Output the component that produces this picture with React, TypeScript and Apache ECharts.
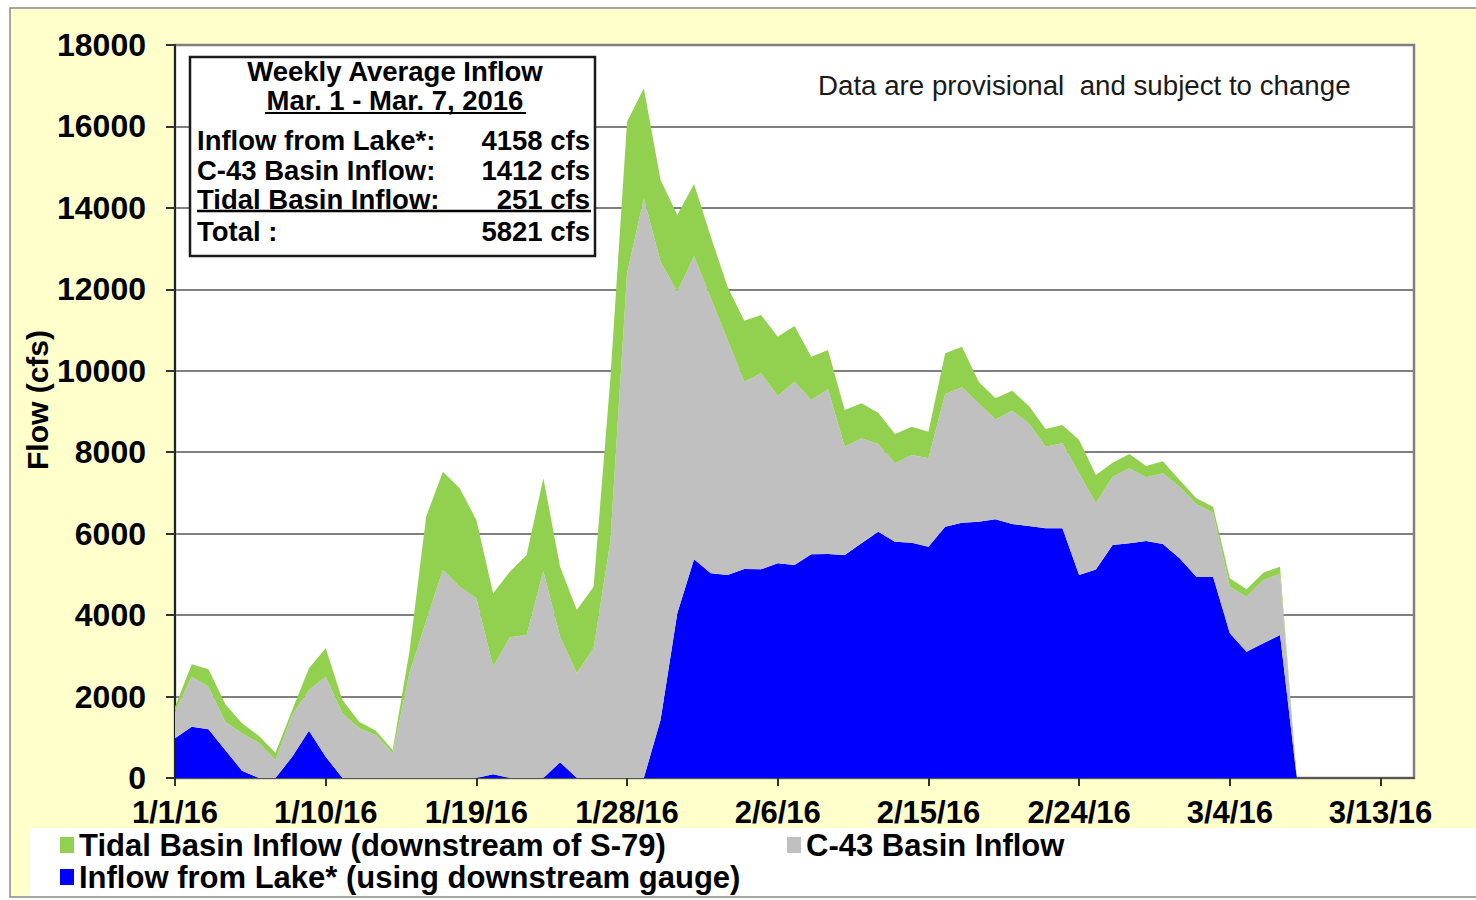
import React, { useEffect, useRef } from "react";
import * as echarts from "echarts";

// Categories: daily dates 1/1/16 .. 3/15/16
const monthDays = [31, 29, 31];
const dates: string[] = [];
for (let m = 0; m < 3; m++) {
  for (let d = 1; d <= monthDays[m]; d++) {
    if (dates.length < 75) dates.push(`${m + 1}/${d}/16`);
  }
}

const seriesNames = [
  "Inflow from Lake* (using downstream gauge)",
  "C-43 Basin Inflow",
  "Tidal Basin Inflow (downstream of S-79)",
];

// Inflow from Lake (cfs), daily from 1/1/16
const lake = [
  975, 1260, 1195, 688, 180, 0, 0, 523, 1162, 523,
  0, 0, 0, 0, 0, 0, 0, 0, 0, 90,
  0, 0, 0, 385, 0, 0, 0, 0, 0, 1424,
  4045, 5371, 5027, 4985, 5133, 5125, 5272, 5231, 5494, 5501,
  5476, 5763, 6049, 5804, 5779, 5680, 6172, 6270, 6295, 6353,
  6238, 6189, 6132, 6132, 4985, 5120, 5722, 5763, 5820, 5747,
  5395, 4944, 4944, 3553, 3102, 3307, 3512, 0,
];

// C-43 Basin Inflow (cfs)
const c43 = [
  654, 1228, 1047, 695, 917, 867, 442, 1027, 999, 1965,
  1588, 1220, 1056, 606, 2571, 3855, 5108, 4699, 4412, 2643,
  3455, 3512, 5083, 3086, 2571, 3185, 5800, 12394, 14236, 11256,
  7898, 7449, 6761, 5779, 4600, 4813, 4109, 4502, 3789, 4044,
  2660, 2579, 2153, 1924, 2153, 2171, 3258, 3324, 2906, 2455,
  2783, 2521, 2004, 2086, 2497, 1626, 1678, 1842, 1564, 1735,
  1759, 1785, 1571, 1145, 1350, 1555, 1498, 0,
];

// Tidal Basin Inflow (cfs)
const tidal = [
  122, 304, 427, 434, 246, 173, 180, 120, 532, 697,
  327, 163, 106, 82, 529, 2563, 2414, 2414, 1924, 1802,
  1611, 1964, 2277, 1719, 1555, 1513, 4000, 3723, 2702, 2006,
  1883, 1767, 1506, 1302, 1497, 1432, 1457, 1367, 1064, 966,
  901, 859, 769, 720, 696, 654, 999, 999, 532, 517,
  491, 425, 435, 451, 819, 695, 343, 352, 278, 295,
  164, 140, 148, 206, 182, 180, 179, 0,
];

const boxTitle = "Weekly Average Inflow";
const boxPeriod = "Mar. 1 - Mar. 7, 2016";
const boxLabels = ["Inflow from Lake*:", "C-43 Basin Inflow:", "Tidal Basin Inflow:", "Total :"];
const boxValues = ["4158 cfs", "1412 cfs", "251 cfs", "5821 cfs"];
const note = "Data are provisional  and subject to change";
const yTitle = "Flow (cfs)";

const FONT = "'Liberation Sans', Arial, sans-serif";

export default function App() {
  const ref = useRef<HTMLDivElement>(null);
  useEffect(() => {
    if (!ref.current) return;
    const chart = echarts.init(ref.current, null, { renderer: "svg" });
    const rowY = [140, 170, 199, 231];
    const boxTexts: any[] = [];
    boxLabels.forEach((t, i) => {
      boxTexts.push({
        type: "text",
        x: 197,
        y: rowY[i],
        z: 102,
        style: { text: t, font: `bold 27.5px ${FONT}`, fill: "#000", textAlign: "left", textVerticalAlign: "middle" },
      });
      boxTexts.push({
        type: "text",
        x: 590,
        y: rowY[i],
        z: 102,
        style: { text: boxValues[i], font: `bold 27.5px ${FONT}`, fill: "#000", textAlign: "right", textVerticalAlign: "middle" },
      });
    });
    const legendCommon = {
      icon: "rect",
      itemWidth: 14,
      itemHeight: 16,
      padding: 0,
      selectedMode: false,
      textStyle: { fontFamily: FONT, fontWeight: "bold", fontSize: 31, color: "#000", lineHeight: 32 },
    };
    chart.setOption({
      animation: false,
      textStyle: { fontFamily: FONT },
      color: ["#0000FF", "#C0C0C0", "#92D050"],
      graphic: [
        {
          type: "rect",
          z: -10,
          silent: true,
          shape: { x: 10, y: 8, width: 1480, height: 889 },
          style: { fill: "#FFFFCC", stroke: "#8a8a8a", lineWidth: 1.5 },
        },
        {
          type: "rect",
          z: -9,
          silent: true,
          shape: { x: 30, y: 828, width: 1460, height: 68 },
          style: { fill: "#FFFFFF" },
        },
        {
          type: "text",
          x: 37,
          y: 400,
          rotation: Math.PI / 2,
          z: 50,
          style: { text: yTitle, font: `bold 30px ${FONT}`, fill: "#000", textAlign: "center", textVerticalAlign: "middle" },
        },
        {
          type: "rect",
          z: 100,
          shape: { x: 190, y: 57, width: 405, height: 199 },
          style: { fill: "#FFFFFF", stroke: "#1a1a1a", lineWidth: 2.5 },
        },
        {
          type: "text",
          x: 395,
          y: 71,
          z: 102,
          style: { text: boxTitle, font: `bold 27.5px ${FONT}`, fill: "#000", textAlign: "center", textVerticalAlign: "middle" },
        },
        {
          type: "text",
          x: 395,
          y: 100,
          z: 102,
          style: { text: boxPeriod, font: `bold 27.5px ${FONT}`, fill: "#000", textAlign: "center", textVerticalAlign: "middle" },
        },
        {
          type: "line",
          z: 102,
          shape: { x1: 265, y1: 113, x2: 526, y2: 113 },
          style: { stroke: "#000", lineWidth: 2 },
        },
        {
          type: "line",
          z: 102,
          shape: { x1: 197, y1: 211, x2: 591, y2: 211 },
          style: { stroke: "#000", lineWidth: 2.5 },
        },
        ...boxTexts,
        {
          type: "text",
          x: 818,
          y: 85,
          z: 102,
          style: { text: note, font: `27.7px ${FONT}`, fill: "#1a1a1a", textAlign: "left", textVerticalAlign: "middle" },
        },
      ],
      grid: {
        left: 175,
        top: 45,
        width: 1239,
        height: 733,
        show: true,
        backgroundColor: "#FFFFFF",
        borderColor: "#808080",
        borderWidth: 2.5,
      },
      legend: [
        { ...legendCommon, data: [seriesNames[2]], left: 60, top: 829 },
        { ...legendCommon, data: [seriesNames[1]], left: 787, top: 829 },
        { ...legendCommon, data: [seriesNames[0]], left: 60, top: 861 },
      ],
      xAxis: {
        type: "category",
        data: dates,
        boundaryGap: false,
        axisLine: { show: true, lineStyle: { color: "#555", width: 2 } },
        axisTick: { show: true, interval: 8, length: 8, lineStyle: { color: "#333", width: 2 } },
        axisLabel: {
          interval: 8,
          margin: 19,
          color: "#000",
          fontWeight: "bold",
          fontSize: 31,
          fontFamily: FONT,
        },
        splitLine: { show: false },
      },
      yAxis: {
        type: "value",
        min: 0,
        max: 18000,
        interval: 2000,
        axisLine: { show: true, lineStyle: { color: "#222", width: 2 } },
        axisTick: { show: true, length: 9, lineStyle: { color: "#333", width: 2 } },
        axisLabel: {
          margin: 29,
          color: "#000",
          fontWeight: "bold",
          fontSize: 32,
          fontFamily: FONT,
          formatter: (v: number) => String(v),
        },
        splitLine: { show: true, lineStyle: { color: "#808080", width: 2 } },
      },
      series: [
        { name: seriesNames[0], data: lake },
        { name: seriesNames[1], data: c43 },
        { name: seriesNames[2], data: tidal },
      ].map((s, i) => ({
        ...s,
        type: "line",
        stack: "flow",
        showSymbol: false,
        symbol: "none",
        lineStyle: { width: 0 },
        areaStyle: { opacity: 1 },
        emphasis: { disabled: true },
        z: 2 + i,
      })),
    });
    return () => chart.dispose();
  }, []);
  return (
    <div
      ref={ref}
      style={{ position: "fixed", left: 0, top: 0, width: 1476, height: 900, background: "#fff" }}
    />
  );
}
